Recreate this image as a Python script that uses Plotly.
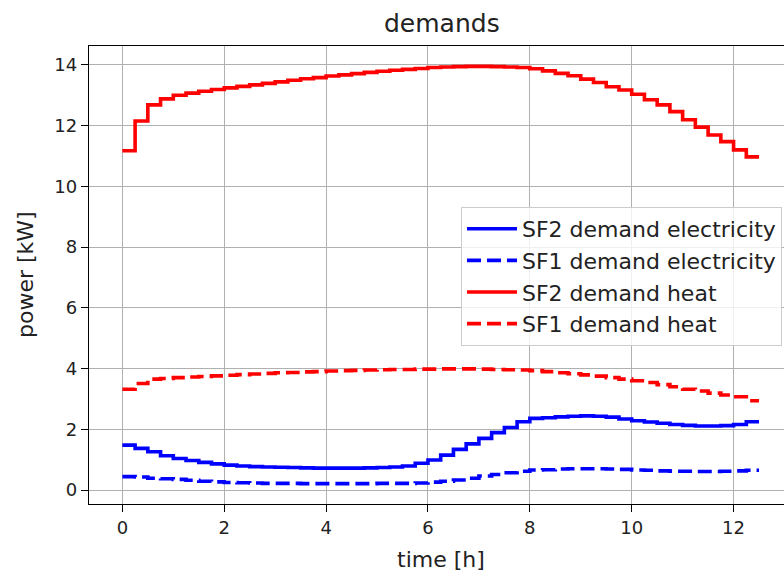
import plotly.graph_objects as go

# time grid [h], 15-minute steps (start of each interval)
time_h = [i * 0.25 for i in range(50)]
t_end = 12.5

sf2_heat = [11.17, 12.15, 12.68, 12.88, 13.00, 13.07, 13.13, 13.19, 13.24, 13.29,
            13.34, 13.39, 13.44, 13.49, 13.54, 13.58, 13.63, 13.67, 13.71, 13.75,
            13.79, 13.82, 13.85, 13.88, 13.91, 13.93, 13.94, 13.95, 13.95, 13.94,
            13.93, 13.91, 13.87, 13.80, 13.72, 13.64, 13.53, 13.42, 13.28, 13.17,
            13.03, 12.85, 12.68, 12.46, 12.19, 11.95, 11.69, 11.47, 11.20, 10.97]

sf1_heat = [3.32, 3.51, 3.65, 3.67, 3.70, 3.72, 3.74, 3.76, 3.78, 3.80,
            3.82, 3.84, 3.86, 3.87, 3.89, 3.90, 3.92, 3.93, 3.94, 3.95,
            3.96, 3.97, 3.97, 3.98, 3.98, 3.99, 3.99, 3.99, 3.98, 3.97,
            3.96, 3.95, 3.93, 3.90, 3.86, 3.83, 3.79, 3.75, 3.70, 3.65,
            3.60, 3.54, 3.47, 3.40, 3.32, 3.26, 3.19, 3.13, 3.07, 2.94]

sf2_elec = [1.48, 1.37, 1.26, 1.13, 1.04, 0.97, 0.91, 0.86, 0.82, 0.79,
            0.77, 0.76, 0.75, 0.74, 0.73, 0.72, 0.72, 0.72, 0.72, 0.73,
            0.74, 0.76, 0.79, 0.88, 0.99, 1.15, 1.34, 1.52, 1.70, 1.89,
            2.06, 2.25, 2.36, 2.38, 2.41, 2.43, 2.44, 2.43, 2.40, 2.34,
            2.28, 2.24, 2.20, 2.16, 2.13, 2.11, 2.11, 2.12, 2.16, 2.25]

sf1_elec = [0.44, 0.43, 0.39, 0.37, 0.35, 0.32, 0.29, 0.27, 0.25, 0.24,
            0.23, 0.22, 0.22, 0.22, 0.21, 0.21, 0.21, 0.21, 0.21, 0.21,
            0.22, 0.22, 0.22, 0.23, 0.26, 0.29, 0.33, 0.39, 0.46, 0.51,
            0.57, 0.62, 0.66, 0.67, 0.69, 0.70, 0.70, 0.70, 0.69, 0.68,
            0.66, 0.65, 0.63, 0.62, 0.62, 0.61, 0.61, 0.62, 0.63, 0.65]

x_ticks = [0, 2, 4, 6, 8, 10, 12]
y_ticks = [0, 2, 4, 6, 8, 10, 12, 14]

series = [
    ("SF2 demand electricity", sf2_elec, "#0000ff", "solid"),
    ("SF1 demand electricity", sf1_elec, "#0000ff", "14px,6px"),
    ("SF2 demand heat", sf2_heat, "#ff0000", "solid"),
    ("SF1 demand heat", sf1_heat, "#ff0000", "14px,6px"),
]

xs = time_h + [t_end]
fig = go.Figure()
for name, vals, color, dash in series:
    fig.add_trace(go.Scatter(
        x=xs, y=vals + [vals[-1]], mode="lines", name=name,
        line=dict(color=color, width=3.6, dash=dash, shape="hv"),
    ))

W, H = 784, 572
L, R, T, B = 89, 0, 46, 68
pw, ph = W - L - R, H - T - B
txt = "#222222"
font = "DejaVu Sans"

axis_common = dict(
    showgrid=True, gridcolor="#b0b0b0", gridwidth=1.3,
    showline=True, linecolor="black", linewidth=1.3,
    ticks="outside", ticklen=7, tickwidth=1.3, tickcolor="black",
    zeroline=False, tickfont=dict(size=18, color=txt, family=font),
)

fig.update_layout(
    width=W, height=H,
    margin=dict(l=L, r=R, t=T, b=B),
    paper_bgcolor="white", plot_bgcolor="white",
    font=dict(family=font, color=txt),
    showlegend=True,
    legend=dict(
        x=(782 - L) / pw, xanchor="right", y=(H - B - 207) / ph, yanchor="top",
        bgcolor="rgba(255,255,255,0.8)", bordercolor="#cccccc", borderwidth=1,
        font=dict(size=22, color=txt, family=font),
        itemwidth=50, tracegroupgap=0,
    ),
    xaxis=dict(range=[-0.655, 12.99], tickvals=x_ticks, mirror=True, **axis_common),
    yaxis=dict(range=[-0.46, 14.62], tickvals=y_ticks, mirror=False, **axis_common),
    annotations=[
        dict(text="demands", xref="paper", yref="paper",
             x=(442 - L) / pw, y=(H - B - 23) / ph, xanchor="center", yanchor="middle",
             showarrow=False, font=dict(size=25, color=txt, family=font)),
        dict(text="time [h]", xref="paper", yref="paper",
             x=(441.5 - L) / pw, y=(H - B - 545) / ph, xanchor="center", yanchor="top",
             showarrow=False, font=dict(size=22, color=txt, family=font)),
        dict(text="power [kW]", xref="paper", yref="paper", textangle=-90,
             x=(25 - L) / pw, y=0.5, xanchor="center", yanchor="middle",
             showarrow=False, font=dict(size=22, color=txt, family=font)),
    ],
)

fig.write_html(
    "out.html",
    config={"displayModeBar": False},
    post_script="document.body.style.margin='0';document.body.style.overflow='hidden';",
)
